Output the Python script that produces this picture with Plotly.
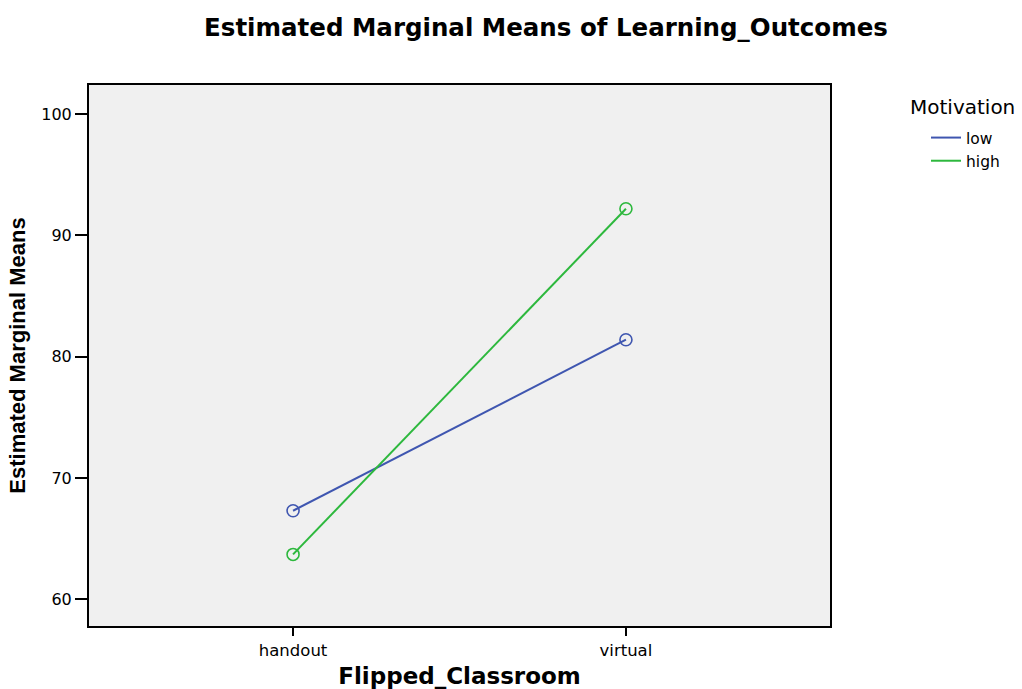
import plotly.graph_objects as go

categories = ["handout", "virtual"]
low_values = [67.3, 81.4]
high_values = [63.7, 92.2]
series_names = ["low", "high"]
y_ticks = [60, 70, 80, 90, 100]

colors = {"low": "#3f56b0", "high": "#2db83d"}
WIDE = "DejaVu Sans, Verdana, sans-serif"

fig = go.Figure()
for name, vals in zip(series_names, [low_values, high_values]):
    fig.add_trace(go.Scatter(
        x=categories, y=vals, name=name, mode="lines",
        line=dict(color=colors[name], width=2),
    ))
for name, vals in zip(series_names, [low_values, high_values]):
    fig.add_trace(go.Scatter(
        x=categories, y=vals, name=name, mode="markers", showlegend=False,
        marker=dict(symbol="circle-open", size=12, color=colors[name], line=dict(width=1.6)),
    ))

fig.update_layout(
    width=1022, height=689,
    paper_bgcolor="white", plot_bgcolor="#f0f0f0",
    margin=dict(l=89, r=192, t=85, b=63, autoexpand=False),
    font=dict(family=WIDE, color="black"),
    title=dict(text="<b>Estimated Marginal Means of Learning_Outcomes</b>",
               x=546/1022, xanchor="center", y=1-27/689, yanchor="middle",
               font=dict(size=24.5, family=WIDE)),
    showlegend=True,
    legend=dict(x=(926-89)/741, xanchor="left", y=1-(121-85)/541, yanchor="top",
                font=dict(size=15.5, family=WIDE), bgcolor="rgba(0,0,0,0)",
                tracegroupgap=0),
    annotations=[dict(text="Motivation", xref="paper", yref="paper",
                      x=(908-89)/741, y=1-(107-85)/541, xanchor="left", yanchor="middle",
                      showarrow=False, font=dict(size=20, family=WIDE))],
)
fig.update_xaxes(
    type="category", range=[-0.613, 1.613], automargin=False,
    showline=True, mirror=True, linecolor="black", linewidth=2,
    ticks="outside", ticklen=8, tickwidth=2, tickcolor="black",
    showgrid=False, zeroline=False, tickfont=dict(size=16.5),
    title=dict(text="<b>Flipped_Classroom</b>", font=dict(size=23), standoff=10),
)
fig.update_yaxes(
    range=[57.8, 102.4], tickvals=y_ticks, automargin=False,
    showline=True, mirror=True, linecolor="black", linewidth=2,
    ticks="outside", ticklen=12, tickwidth=2, tickcolor="black",
    showgrid=False, zeroline=False, tickfont=dict(size=16),
    title=dict(text="<b>Estimated Marginal Means</b>",
               font=dict(size=22, family="Liberation Sans, Arial, sans-serif"), standoff=10),
)
fig.write_html("out.html", config={"displayModeBar": False},
               post_script="document.body.style.margin='0px';")
